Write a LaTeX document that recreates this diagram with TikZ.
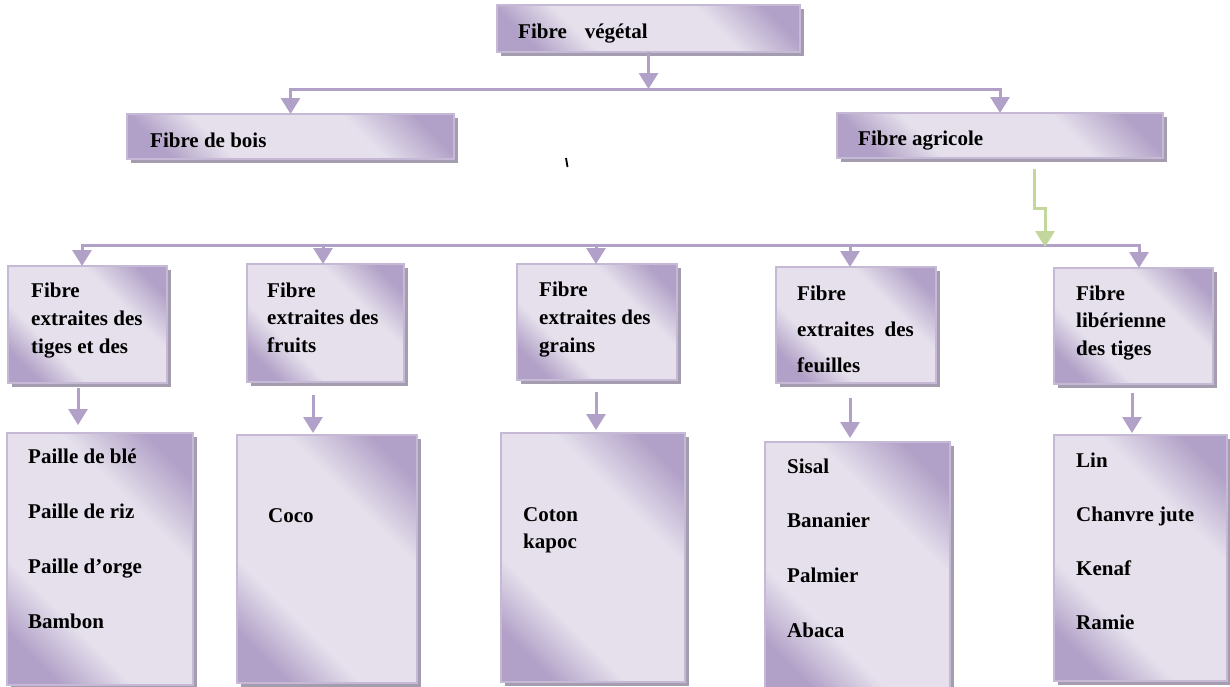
\documentclass[tikz,border=0pt]{standalone}
\usepackage{fontspec}
\setmainfont{Liberation Serif}
\usetikzlibrary{arrows.meta,shadows}

\definecolor{bxdark}{HTML}{B1A0C7}
\definecolor{bxlight}{HTML}{E5E0EC}
\definecolor{bxedge}{HTML}{C5B9D6}
\definecolor{bxshadow}{HTML}{A49DB0}
\definecolor{link}{HTML}{B1A0C7}
\definecolor{linkgreen}{HTML}{C3D69B}

% diagonal "moderate effect" fill: dark corner, light band, dark corner
\pgfdeclarehorizontalshading{boxgrad}{100bp}{color(0bp)=(bxdark); color(23bp)=(bxdark); color(35bp)=(bxlight); color(64bp)=(bxlight); color(78bp)=(bxdark); color(100bp)=(bxdark)}

% multi-line block whose baseline is that of its first line
\newcommand\stacklines[2]{\parbox[t]{260pt}{\raggedright\setlength{\baselineskip}{#1pt}#2}}
% box from (x1,y1) to (x2,y2)
\newcommand\fbx[5]{\node[box, minimum width={#4-#2}, minimum height={#5-#3}] (#1) at (#2,#3) {};}

\tikzset{
  box/.style={rectangle, draw=bxedge, line width=1.3pt, shading=boxgrad, shading angle=45,
    anchor=north west, inner sep=0pt, outer sep=0pt,
    drop shadow={shadow xshift=4pt, shadow yshift=-4pt, fill=bxshadow, opacity=1}},
  lbl/.style={anchor=base west, inner sep=0pt, font=\fontsize{21}{25}\selectfont\bfseries},
  conn/.style={draw=link, line width=3pt},
  arr/.style={conn, -{Triangle[width=19pt,length=16pt]}},
  garr/.style={draw=linkgreen, line width=3pt, -{Triangle[width=19pt,length=16pt]}},
}

\begin{document}
\begin{tikzpicture}[x=1pt,y=-1pt]
\useasboundingbox (0,0) rectangle (1230,686);
\fill[white] (0,0) rectangle (1230,686);
\clip (0,0) rectangle (1230,686);

% boxes
\fbx{veg}{497}{5}{800}{52}
\fbx{bois}{127}{114}{454}{159}
\fbx{agri}{837}{113}{1163}{158}
\fbx{f1}{8}{266}{167}{383}
\fbx{f2}{247}{264}{404}{382}
\fbx{f3}{517}{264}{677}{380}
\fbx{f4}{776}{267}{936}{383}
\fbx{f5}{1054}{268}{1213}{384}
\fbx{l1}{7}{433}{193}{685}
\fbx{l2}{237}{435}{417}{683}
\fbx{l3}{501}{433}{685}{682}
\fbx{l4}{765}{442}{950}{694}
\fbx{l5}{1054}{435}{1227}{681}

% texts
\node[lbl] (tveg) at (518,38) {Fibre\hspace{18pt}végétal};
\node[lbl] (tbois) at (150,147) {Fibre de bois};
\node[lbl] (tagri) at (858,145) {Fibre agricole};
\node[lbl] (tf1) at (31,297) {\stacklines{28}{Fibre\\extraites des\\tiges et des}};
\node[lbl] (tf2) at (267,297) {\stacklines{27.5}{Fibre\\extraites des\\fruits}};
\node[lbl] (tf3) at (539,296) {\stacklines{28}{Fibre\\extraites des\\grains}};
\node[lbl] (tf4) at (797,300) {\stacklines{36}{Fibre\\extraites~ des\\feuilles}};
\node[lbl] (tf5) at (1076,300) {\stacklines{27.5}{Fibre\\libérienne\\des tiges}};
\node[lbl] (tl1) at (28,463) {\stacklines{55}{Paille de blé\\Paille de riz\\Paille d’orge\\Bambon}};
\node[lbl] (tl2) at (268,522) {Coco};
\node[lbl] (tl3) at (523,521) {\stacklines{27}{Coton\\kapoc}};
\node[lbl] (tl4) at (787,473) {\stacklines{54.7}{Sisal\\Bananier\\Palmier\\Abaca}};
\node[lbl] (tl5) at (1076,467) {\stacklines{54.3}{Lin\\Chanvre jute\\Kenaf\\Ramie}};

% first level
\coordinate (busA) at (648.5,89);
\draw[arr] (veg.south) -- (veg.south |- busA);
\draw[arr] (busA) -| (bois.north);
\draw[arr] (busA) -| (agri.north);

% second level
\coordinate (c1) at (82,245);
\coordinate (c2) at (323,245);
\coordinate (c3) at (596,245);
\coordinate (c4) at (850,245);
\coordinate (c5) at (1139,245);
\draw[conn, line cap=rect] (c1) -- (c5);
\draw[arr] (c1) -- (c1 |- f1.north);
\draw[arr] (c2) -- (c2 |- f2.north);
\draw[arr] (c3) -- (c3 |- f3.north);
\draw[arr] (c4) -- (c4 |- f4.north);
\draw[arr] (c5) -- (c5 |- f5.north);

% link from the agricultural branch to the second bus
\coordinate (g0) at (1034,169);
\coordinate (g1) at (1045,247);
\draw[garr] (g0) -- ++(0,39) -| (g1);

% third level
\coordinate (d1) at (78,388);
\coordinate (d2) at (313,395);
\coordinate (d3) at (596,392);
\coordinate (d4) at (850,398);
\coordinate (d5) at (1132,393);
\draw[arr, shorten >=8pt] (d1) -- (d1 |- l1.north);
\draw[arr, shorten >=2pt] (d2) -- (d2 |- l2.north);
\draw[arr, shorten >=3pt] (d3) -- (d3 |- l3.north);
\draw[arr, shorten >=4pt] (d4) -- (d4 |- l4.north);
\draw[arr, shorten >=2pt] (d5) -- (d5 |- l5.north);

% stray tick
\draw[line width=1.8pt] (566,158) -- (567.5,167);
\end{tikzpicture}
\end{document}
